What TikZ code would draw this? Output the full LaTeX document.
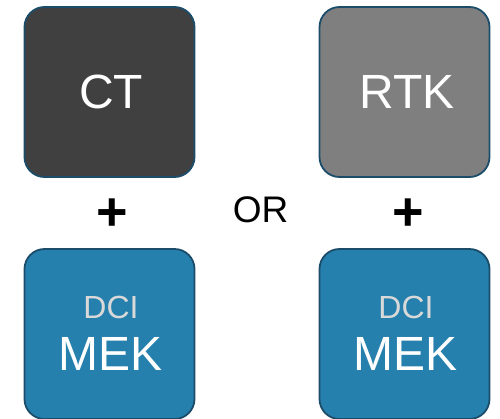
\documentclass[tikz,border=0pt]{standalone}
\usepackage{fontspec}
\setmainfont{Liberation Sans}
\definecolor{bordc}{HTML}{1B4C69}
\definecolor{ctfill}{HTML}{404040}
\definecolor{rtkfill}{HTML}{7F7F7F}
\definecolor{mekfill}{HTML}{2680AD}
\definecolor{dcic}{HTML}{D9D9D9}
\tikzset{
  tile/.style={draw=bordc, line width=1.8pt, rounded corners=20pt, minimum width=170pt, minimum height=170pt, inner sep=0pt},
  big/.style={font=\fontsize{48}{52}\selectfont, text=white, inner sep=0pt},
  small/.style={font=\fontsize{32}{36}\selectfont, text=dcic, inner sep=0pt},
  plus/.style={font=\fontsize{54}{58}\bfseries\selectfont, inner sep=0pt},
  ortext/.style={font=\fontsize{37}{40}\selectfont, inner sep=0pt}
}
\begin{document}
\begin{tikzpicture}[x=1pt,y=-1pt]
\useasboundingbox (0,0) rectangle (500,418);
\node[tile, fill=ctfill] (ct) at (109.5,92) {};
\node[tile, fill=rtkfill] (rtk) at (404.5,92) {};
\node[tile, fill=mekfill] (mek1) at (109.5,334) {};
\node[tile, fill=mekfill] (mek2) at (404.5,334) {};
\node[big] (ctl) at (111,92) {CT};
\node[big] (rtkl) at (407,92) {RTK};
\node[small] (dci1) at (111,307) {DCI};
\node[big] (mekl1) at (111,354) {MEK};
\node[small] (dci2) at (406,307) {DCI};
\node[big] (mekl2) at (406,354) {MEK};
\node[plus] (p1) at (112,214.5) {+};
\node[plus] (p2) at (408,214.5) {+};
\node[ortext] (or) at (260.5,209.5) {OR};
\end{tikzpicture}
\end{document}
